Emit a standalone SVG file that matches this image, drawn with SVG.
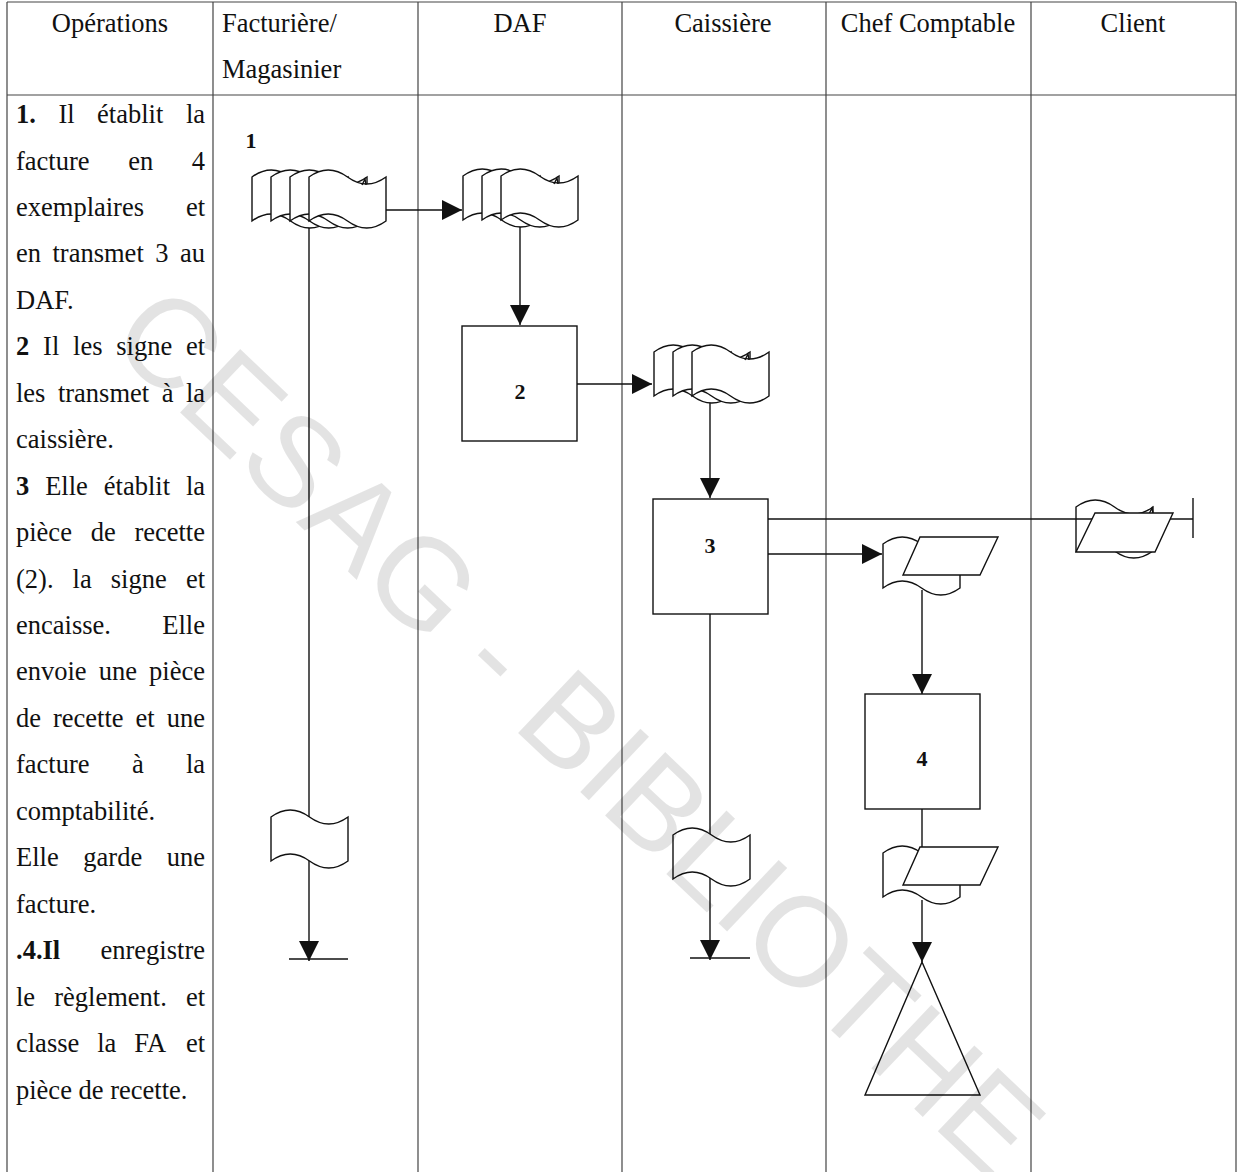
<svg xmlns="http://www.w3.org/2000/svg" width="1239" height="1172" viewBox="0 0 1239 1172">
<defs>
<style>
.grid{stroke:#444;stroke-width:1.2;fill:none}
.t{font-family:"Liberation Serif","Times New Roman",serif;font-size:26.5px;fill:#111}
.b{font-weight:bold}
.h{font-family:"Liberation Serif","Times New Roman",serif;font-size:26.5px;fill:#111;text-anchor:middle}
.s{fill:#fff;stroke:#111;stroke-width:1.4}
.n{fill:none;stroke:#111;stroke-width:1.4}
.c{fill:none;stroke:#111;stroke-width:1.4}
.lbl{font-family:"Liberation Serif","Times New Roman",serif;font-size:22px;font-weight:bold;text-anchor:middle;fill:#111}
.wm{font-family:"Liberation Sans",Arial,sans-serif;font-size:127px;fill:#000;fill-opacity:0.11}
</style>
<path id="tape" d="M0,0 Q19.25,-14 38.5,0 T77,0 L77,44 Q57.75,58 38.5,44 T0,44 Z"/>
<marker id="ah" markerUnits="userSpaceOnUse" markerWidth="20" markerHeight="20" viewBox="0 0 20 20" refX="20" refY="10" orient="auto"><path d="M0,0 L20,10 L0,20 Z" fill="#111"/></marker>
</defs>
<rect width="1239" height="1172" fill="#fff"/>

<g id="table">
<line class="grid" x1="7" y1="2" x2="1236" y2="2" stroke-width="2"/>
<line class="grid" x1="7" y1="95" x2="1236" y2="95"/>
<line class="grid" x1="7" y1="2" x2="7" y2="1172"/>
<line class="grid" x1="213" y1="2" x2="213" y2="1172"/>
<line class="grid" x1="418" y1="2" x2="418" y2="1172"/>
<line class="grid" x1="622" y1="2" x2="622" y2="1172"/>
<line class="grid" x1="826" y1="2" x2="826" y2="1172"/>
<line class="grid" x1="1031" y1="2" x2="1031" y2="1172"/>
<line class="grid" x1="1236" y1="2" x2="1236" y2="1172"/>
</g>

<g id="header">
<text class="h" x="110" y="32">Opérations</text>
<text class="t" x="222" y="32">Facturière/</text>
<text class="t" x="222" y="78">Magasinier</text>
<text class="h" x="520" y="32">DAF</text>
<text class="h" x="723" y="32">Caissière</text>
<text class="h" x="928" y="32">Chef Comptable</text>
<text class="h" x="1133" y="32">Client</text>
</g>

<g id="operations" class="t">
<text y="123"><tspan x="16" class="b">1.</tspan><tspan x="58.4">Il</tspan><tspan x="97.1">établit</tspan><tspan x="185.9">la</tspan></text>
<text y="169.5"><tspan x="16">facture</tspan><tspan x="128.2">en</tspan><tspan x="191.7">4</tspan></text>
<text y="215.9"><tspan x="16">exemplaires</tspan><tspan x="185.9">et</tspan></text>
<text y="262.4"><tspan x="16">en</tspan><tspan x="52.5">transmet</tspan><tspan x="155.3">3</tspan><tspan x="180">au</tspan></text>
<text y="308.8" x="16">DAF.</text>
<text y="355.3"><tspan x="16" class="b">2</tspan><tspan x="43.1">Il</tspan><tspan x="73.1">les</tspan><tspan x="116.3">signe</tspan><tspan x="185.9">et</tspan></text>
<text y="401.7"><tspan x="16">les</tspan><tspan x="57.9">transmet</tspan><tspan x="161.7">à</tspan><tspan x="185.9">la</tspan></text>
<text y="448.2" x="16">caissière.</text>
<text y="494.6"><tspan x="16" class="b">3</tspan><tspan x="45.2">Elle</tspan><tspan x="103.8">établit</tspan><tspan x="185.9">la</tspan></text>
<text y="541.1"><tspan x="16">pièce</tspan><tspan x="90.7">de</tspan><tspan x="134.4">recette</tspan></text>
<text y="587.5"><tspan x="16">(2).</tspan><tspan x="72.6">la</tspan><tspan x="110.8">signe</tspan><tspan x="185.9">et</tspan></text>
<text y="634"><tspan x="16">encaisse.</tspan><tspan x="162.3">Elle</tspan></text>
<text y="680.4"><tspan x="16">envoie</tspan><tspan x="98.7">une</tspan><tspan x="149.1">pièce</tspan></text>
<text y="726.9"><tspan x="16">de</tspan><tspan x="53">recette</tspan><tspan x="135.6">et</tspan><tspan x="166.7">une</tspan></text>
<text y="773.3"><tspan x="16">facture</tspan><tspan x="131.9">à</tspan><tspan x="185.9">la</tspan></text>
<text y="819.8" x="16">comptabilité.</text>
<text y="866.2"><tspan x="16">Elle</tspan><tspan x="83.3">garde</tspan><tspan x="166.7">une</tspan></text>
<text y="912.7" x="16">facture.</text>
<text y="959.1"><tspan x="16" class="b">.4.Il</tspan><tspan x="100.5">enregistre</tspan></text>
<text y="1005.6"><tspan x="16">le</tspan><tspan x="54.2">règlement.</tspan><tspan x="185.9">et</tspan></text>
<text y="1052"><tspan x="16">classe</tspan><tspan x="97.2">la</tspan><tspan x="134.2">FA</tspan><tspan x="185.9">et</tspan></text>
<text y="1098.5" x="16">pièce de recette.</text>
</g>

<g id="connectors" class="c">
<path d="M386,210 H462" marker-end="url(#ah)"/>
<path d="M309,221 V961" marker-end="url(#ah)"/>
<path d="M289,959 H348"/>
<path d="M520,222 V325" marker-end="url(#ah)"/>
<path d="M577,384 H652" marker-end="url(#ah)"/>
<path d="M710,398 V498" marker-end="url(#ah)"/>
<path d="M768,519 H1193"/>
<path d="M1193,498 V538"/>
<path d="M768,554 H882" marker-end="url(#ah)"/>
<path d="M710,614 V960" marker-end="url(#ah)"/>
<path d="M690,958 H750"/>
<path d="M922,590 V694" marker-end="url(#ah)"/>
<path d="M922,809 V847"/>
<path d="M922,900 V962" marker-end="url(#ah)"/>
</g>

<g id="n1-factures">
<text class="lbl" x="251" y="148">1</text>
<use href="#tape" class="s" x="252" y="177"/>
<use href="#tape" class="s" x="271" y="177"/>
<use href="#tape" class="s" x="290" y="177"/>
<use href="#tape" class="s" x="309" y="177"/>
<path class="n" d="M362,185 l3,-6 l1,6"/>
</g>

<g id="daf-factures">
<use href="#tape" class="s" x="463" y="176"/>
<use href="#tape" class="s" x="482" y="176"/>
<use href="#tape" class="s" x="501" y="176"/>
<path class="n" d="M554,184 l3,-6 l1,6"/>
</g>

<g id="n2-daf">
<rect class="s" x="462" y="326" width="115" height="115"/>
<text class="lbl" x="520" y="399">2</text>
</g>

<g id="caisse-factures">
<use href="#tape" class="s" x="654" y="352"/>
<use href="#tape" class="s" x="673" y="352"/>
<use href="#tape" class="s" x="692" y="352"/>
<path class="n" d="M745,360 l3,-6 l1,6"/>
</g>

<g id="n3-caisse">
<rect class="s" x="653" y="499" width="115" height="115"/>
<text class="lbl" x="710" y="553">3</text>
</g>

<g id="client-piece">
<use href="#tape" class="n" x="1076" y="507"/>
<path class="n" d="M1149,514 l3,-6 l1,6"/>
<path class="s" d="M1095,513 H1173 L1155,552 H1076 Z"/>
</g>

<g id="chef-piece1">
<use href="#tape" class="s" x="883" y="544"/>
<path class="s" d="M920,537 H998 L980,575 H903 Z"/>
</g>

<g id="n4-chef">
<rect class="s" x="865" y="694" width="115" height="115"/>
<text class="lbl" x="922" y="766">4</text>
</g>

<g id="chef-piece2">
<use href="#tape" class="s" x="883" y="853"/>
<path class="s" d="M920,847 H998 L980,885 H903 Z"/>
</g>

<g id="chef-archive">
<path class="s" d="M922,962 L980,1095 L865,1095 Z"/>
</g>

<g id="factu-copy">
<use href="#tape" class="s" x="271" y="817"/>
</g>

<g id="caisse-copy">
<use href="#tape" class="s" x="673" y="835"/>
</g>

<text class="wm" x="106" y="342" transform="rotate(43.5 106 342)">CESAG - BIBLIOTHE</text>
</svg>
